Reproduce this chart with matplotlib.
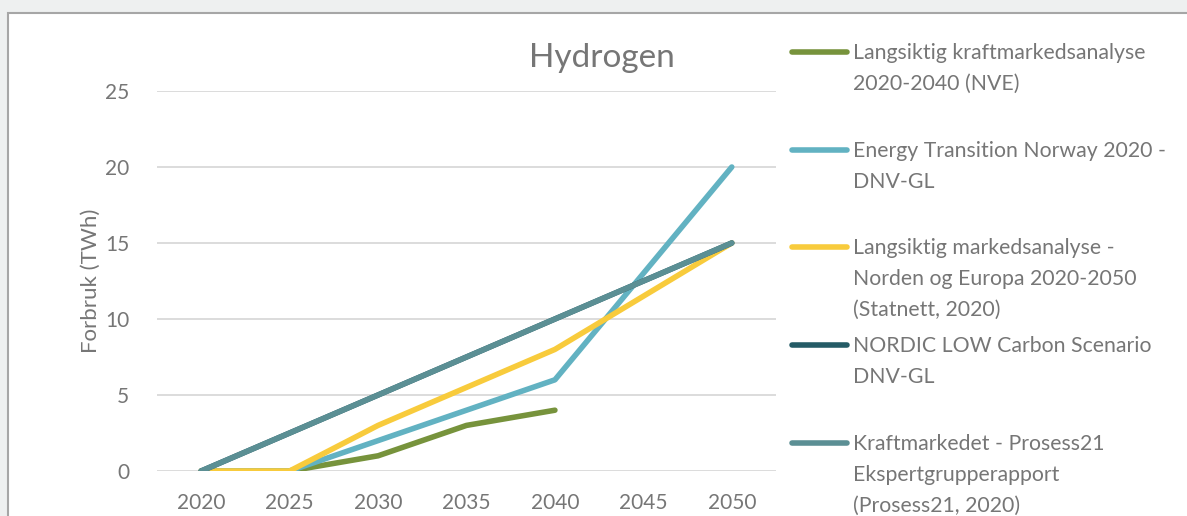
import matplotlib
matplotlib.use("Agg")
from matplotlib import pyplot as plt
from matplotlib.lines import Line2D
from matplotlib.patches import Rectangle

plt.rcParams['font.family'] = ['Lato', 'DejaVu Sans']

years = ['2020', '2025', '2030', '2035', '2040', '2045', '2050']

nve = [0, 0, 1, 3, 4]
dnv_transition = [0, 0, 2, 4, 6, 13, 20]
statnett = [0, 0, 3, 5.5, 8, 11.5, 15]
dnv_nordic_low = [0, 2.5, 5, 7.5, 10, 12.5, 15]
prosess21 = [0, 2.5, 5, 7.5, 10, 12.5, 15]

labels = [
    "Langsiktig kraftmarkedsanalyse\n2020-2040 (NVE)",
    "Energy Transition Norway 2020 -\nDNV-GL",
    "Langsiktig markedsanalyse -\nNorden og Europa 2020-2050\n(Statnett, 2020)",
    "NORDIC LOW Carbon Scenario\nDNV-GL",
    "Kraftmarkedet - Prosess21\nEkspertgrupperapport\n(Prosess21, 2020)",
]
colors = ['#77933C', '#62B2C2', '#F8CB3C', '#245B66', '#5B8F94']
series = [nve, dnv_transition, statnett, dnv_nordic_low, prosess21]

txt = '#767676'

fig = plt.figure(figsize=(11.87, 5.16), dpi=100)
fig.patch.set_facecolor('#EEF0F0')
# white chart area with grey frame
fig.add_artist(Rectangle((8 / 1187, -0.1), 1.2, (516 - 13) / 516 + 0.1,
                         transform=fig.transFigure, facecolor='white',
                         edgecolor='#A6A6A6', linewidth=1.5, zorder=0))

ax = fig.add_axes([157 / 1187, 45 / 516, 619 / 1187, 380 / 516])
ax.set_facecolor('none')

x = list(range(len(years)))
for vals, col in zip(series, colors):
    ax.plot(x[:len(vals)], vals, color=col, linewidth=4,
            solid_capstyle='round', solid_joinstyle='round', zorder=3)

ax.set_xlim(-0.5, len(years) - 0.5)
ax.set_ylim(0, 25)
ax.set_yticks([0, 5, 10, 15, 20, 25])
ax.set_xticks(x)
ax.set_xticklabels(years)
ax.grid(axis='y', color='#D9D9D9', linewidth=1.3, zorder=0)
ax.set_axisbelow(True)
for s in ax.spines.values():
    s.set_visible(False)
ax.tick_params(length=0, labelsize=15, colors=txt)
ax.tick_params(axis='x', pad=16)
ax.tick_params(axis='y', pad=20)
ax.set_ylabel('Forbruk (TWh)', fontsize=16, color=txt, labelpad=3)

fig.text(602 / 1187, 1 - 58 / 516, 'Hydrogen', fontsize=24, color=txt,
         ha='center', va='center')

# legend drawn by hand to mimic Excel's evenly spaced entries
for i, (lab, col) in enumerate(zip(labels, colors)):
    yc = 1 - (52 + 97.7 * i) / 516
    fig.add_artist(Line2D([792 / 1187, 847 / 1187], [yc, yc], color=col,
                          linewidth=4, solid_capstyle='round',
                          transform=fig.transFigure))
    fig.text(853 / 1187, yc + 9 / 516, lab, fontsize=15.3, color=txt,
             ha='left', va='top', linespacing=1.68)

fig.savefig('out.png', dpi=100, facecolor=fig.get_facecolor())
